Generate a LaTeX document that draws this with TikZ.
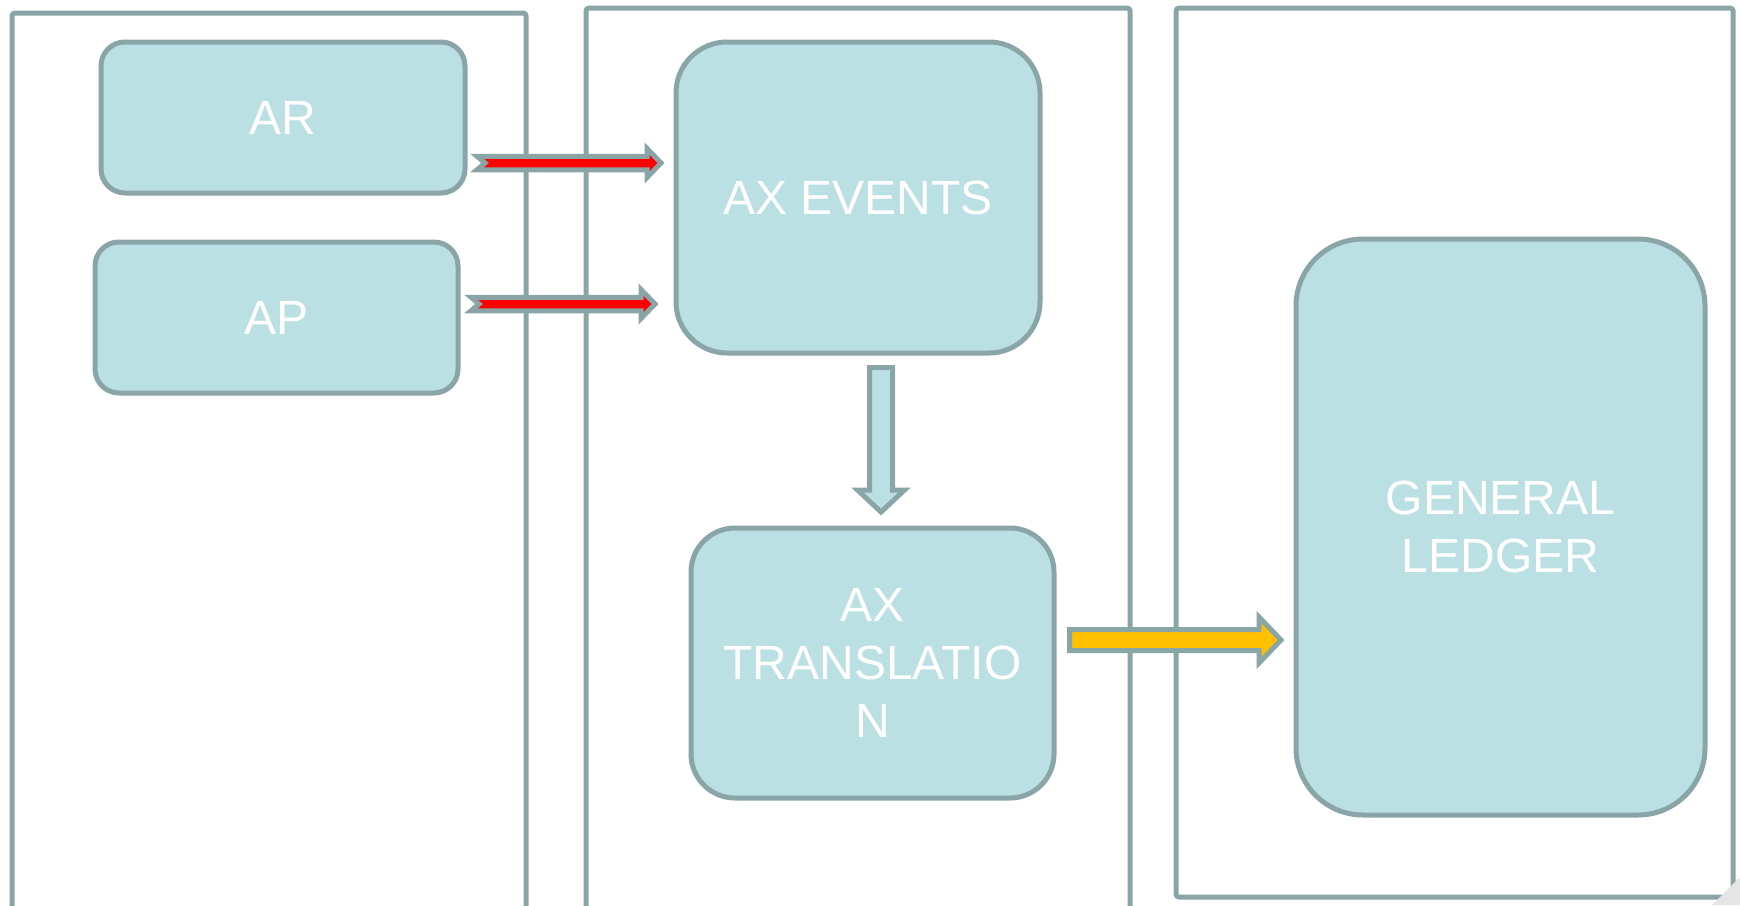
\documentclass[tikz,border=0pt]{standalone}
\usepackage{fontspec}
\setmainfont{Liberation Sans}
\usepackage{xcolor}
\usepackage{tikz}
\usetikzlibrary{calc, positioning}

\definecolor{boxfill}{HTML}{BBE0E3}
\definecolor{edgegray}{HTML}{8AA5A7}
\definecolor{flowred}{HTML}{FF0000}
\definecolor{flowgold}{HTML}{FFC000}

\tikzset{
    panel/.style={draw=edgegray, line width=5pt, rounded corners=3pt},
    sysbox/.style={draw=edgegray, fill=boxfill, line width=5pt, text=white,
        align=center, inner sep=0pt, font=\fontsize{48}{58}\selectfont},
    flow/.style={draw=edgegray, line width=5pt, line join=miter}
}

% block arrow: [style]{tail}{tip}{shaft half}{head half}{head length}{notch}
\newcommand{\hflow}[7][]{%
    \draw[flow, #1] ($(#2)+(0,-#4)$) -- ($(#3)+(-#6,-#4)$) -- ($(#3)+(-#6,-#5)$) -- (#3)
        -- ($(#3)+(-#6,#5)$) -- ($(#3)+(-#6,#4)$) -- ($(#2)+(0,#4)$) -- ($(#2)+(#7,0)$) -- cycle;}

\begin{document}
\begin{tikzpicture}[x=1pt, y=-1pt]
    \useasboundingbox (0,0) rectangle (1740,905);
    \clip (0,0) rectangle (1740,905);

    % Panels
    \draw[panel] (12,13) rectangle (526,930);
    \draw[panel] (586,8) rectangle (1130,930);
    \draw[panel] (1176,8) rectangle (1733,897);
    \fill[gray!20] (1712,905) -- (1740,877) -- (1740,905) -- cycle;

    % Systems
    \node[sysbox, rounded corners=24pt, minimum width=364pt, minimum height=151pt] (ar) at (283,117.5) {AR};
    \node[sysbox, rounded corners=24pt, minimum width=363pt, minimum height=151pt] (ap) at (276.5,317.5) {AP};
    \node[sysbox, rounded corners=51pt, minimum width=364pt, minimum height=311pt] (events) at (858,197.5) {\raisebox{-2pt}{AX EVENTS}};
    \node[sysbox, rounded corners=44pt, minimum width=363pt, minimum height=270pt] (transl) at (872.5,663) {AX\\TRANSLATIO\\N};
    \node[sysbox, rounded corners=67pt, minimum width=409pt, minimum height=576pt] (ledger) at (1500.5,527) {\raisebox{-2pt}{GENERAL}\\\raisebox{-2pt}{LEDGER}};

    % Flow ends
    \coordinate (arTail) at (477,163);
    \coordinate (arTip) at (661,163);
    \coordinate (apTail) at (471,304);
    \coordinate (apTip) at (655,304);
    \coordinate (evTail) at (881,367.5);
    \coordinate (evTip) at (881,512);
    \coordinate (glTail) at (1069.5,640);
    \coordinate (glTip) at (1281,640);

    % Flows
    \hflow[fill=flowred]{arTail}{arTip}{6.75}{14.5}{14}{8}
    \hflow[fill=flowred]{apTail}{apTip}{6.75}{14.5}{14}{8}
    \hflow[fill=flowgold]{glTail}{glTip}{10.5}{23}{22}{0}
    \draw[flow, fill=boxfill] ($(evTail)+(-11.5,0)$) -- ($(evTip)+(-11.5,-22)$) -- ($(evTip)+(-23.5,-22)$) -- (evTip)
        -- ($(evTip)+(23.5,-22)$) -- ($(evTip)+(11.5,-22)$) -- ($(evTail)+(11.5,0)$) -- cycle;
\end{tikzpicture}
\end{document}
